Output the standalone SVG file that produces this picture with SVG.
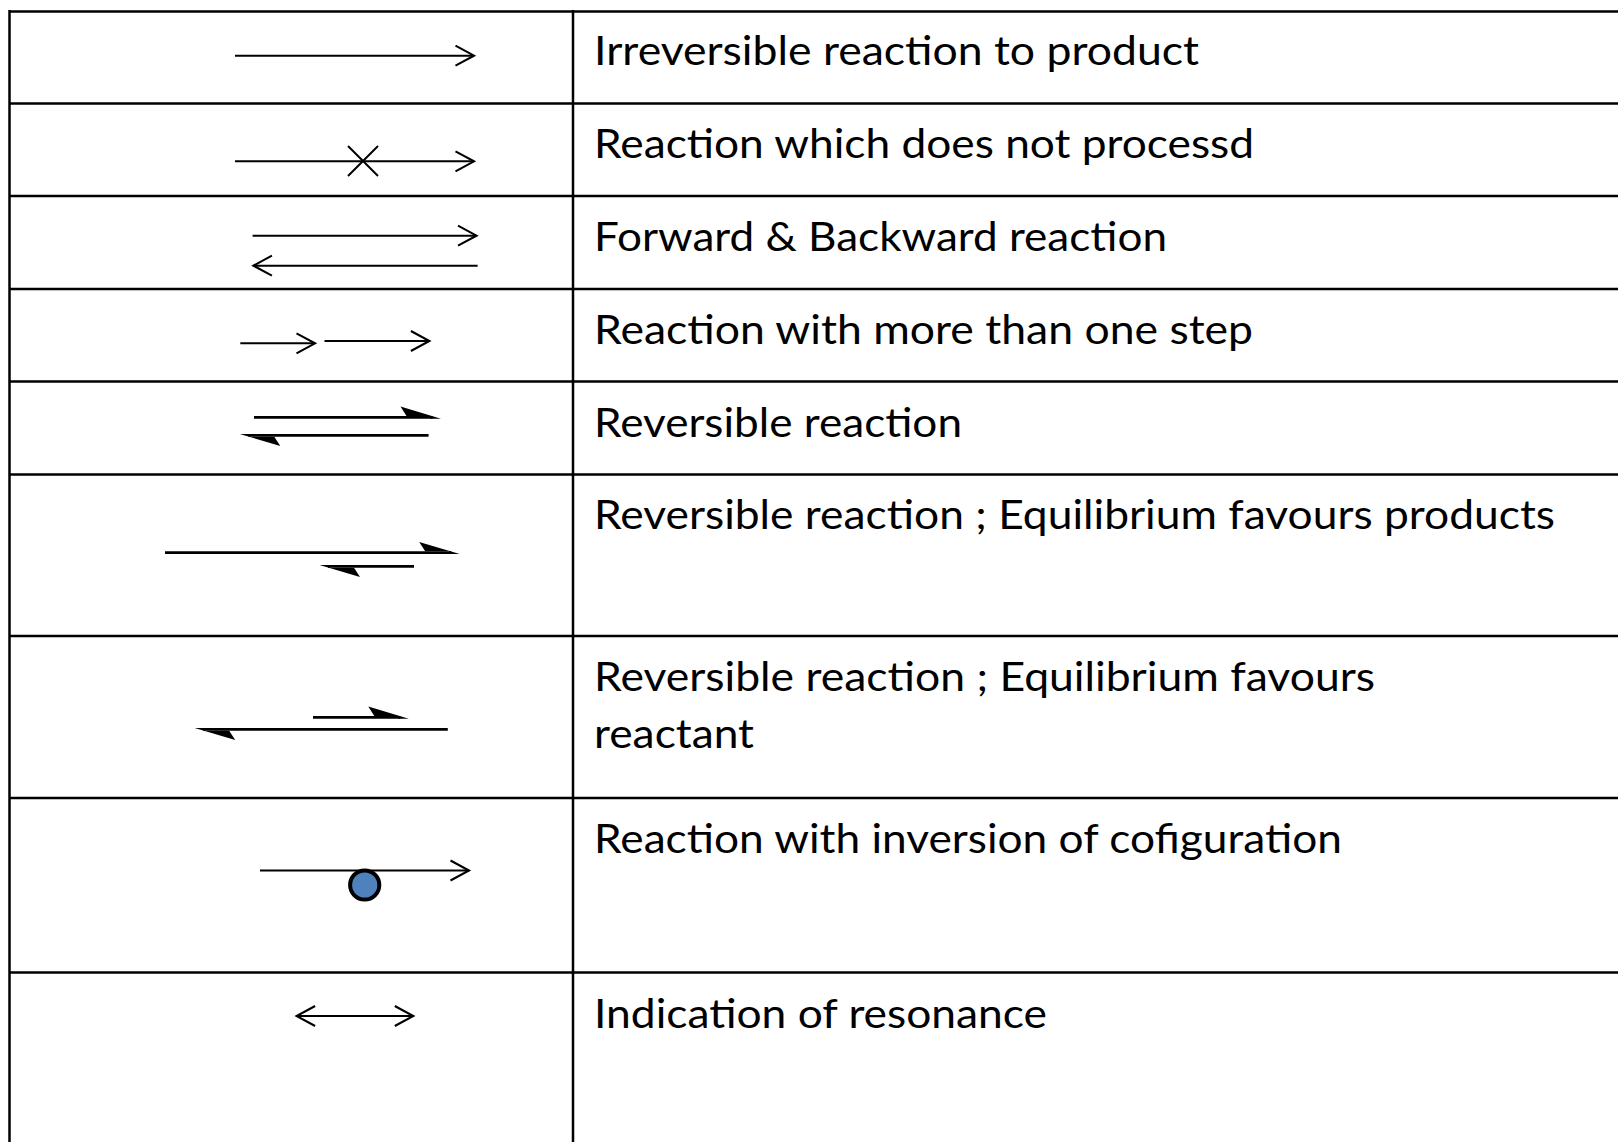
<svg xmlns="http://www.w3.org/2000/svg" width="1618" height="1142" viewBox="0 0 1618 1142">
<style>
.grid{stroke:#000;stroke-width:2.5;fill:none}
.thin{stroke:#000;stroke-width:2;fill:none}
.thick{stroke:#000;stroke-width:2.8;fill:none}
.lbl{font-family:Lato,"Open Sans","Liberation Sans",sans-serif;font-size:40px;fill:#000}
</style>
<defs>
<marker id="chev" markerUnits="userSpaceOnUse" orient="auto-start-reverse" refX="0" refY="0" markerWidth="40" markerHeight="40" overflow="visible">
<path d="M-18.5,-10 L0,0 L-18.5,10" fill="none" stroke="#000" stroke-width="2.1"/>
</marker>
<marker id="harp" markerUnits="userSpaceOnUse" orient="auto" refX="-8" refY="0" markerWidth="60" markerHeight="40" overflow="visible">
<path d="M0.5,1.4 L-40,-10.8 L-34,-1.4 L-10,-1.4 L-10,1.4 Z" fill="#000"/>
</marker>
</defs>
<rect x="0" y="0" width="1618" height="1142" fill="#fff"/>
<g id="table">
<line class="grid" x1="9.5" y1="11.5" x2="1618" y2="11.5"/>
<line class="grid" x1="9.5" y1="103.5" x2="1618" y2="103.5"/>
<line class="grid" x1="9.5" y1="196" x2="1618" y2="196"/>
<line class="grid" x1="9.5" y1="289" x2="1618" y2="289"/>
<line class="grid" x1="9.5" y1="381.5" x2="1618" y2="381.5"/>
<line class="grid" x1="9.5" y1="474.5" x2="1618" y2="474.5"/>
<line class="grid" x1="9.5" y1="636" x2="1618" y2="636"/>
<line class="grid" x1="9.5" y1="798" x2="1618" y2="798"/>
<line class="grid" x1="9.5" y1="972.5" x2="1618" y2="972.5"/>
<line class="grid" x1="9.5" y1="10" x2="9.5" y2="1142"/>
<line class="grid" x1="573" y1="10" x2="573" y2="1142"/>
</g>
<g id="connectors">
<g id="row1-arrow"><line class="thin" x1="235" y1="55.7" x2="474" y2="55.7" marker-end="url(#chev)"/></g>
<g id="row2-arrow"><line class="thin" x1="235" y1="161.3" x2="474" y2="161.3" marker-end="url(#chev)"/>
<path class="thin" d="M348,146 L378,176 M348,176 L378,146"/></g>
<g id="row3-arrows"><line class="thin" x1="252.6" y1="235.7" x2="476.5" y2="235.7" marker-end="url(#chev)"/>
<line class="thin" x1="477.6" y1="265.7" x2="253.4" y2="265.7" marker-end="url(#chev)"/></g>
<g id="row4-arrows"><line class="thin" x1="240.3" y1="343.3" x2="315" y2="343.3" marker-end="url(#chev)"/>
<line class="thin" x1="324.5" y1="341" x2="429.4" y2="341" marker-end="url(#chev)"/></g>
<g id="row5-arrows"><line class="thick" x1="254" y1="417.3" x2="432.5" y2="417.3" marker-end="url(#harp)"/>
<line class="thick" x1="428.6" y1="435.3" x2="248.3" y2="435.3" marker-end="url(#harp)"/></g>
<g id="row6-arrows"><line class="thick" x1="165" y1="552.7" x2="451.2" y2="552.7" marker-end="url(#harp)"/>
<line class="thick" x1="414" y1="566.3" x2="328" y2="566.3" marker-end="url(#harp)"/></g>
<g id="row7-arrows"><line class="thick" x1="313" y1="717.3" x2="400.3" y2="717.3" marker-end="url(#harp)"/>
<line class="thick" x1="447.8" y1="729.3" x2="203.2" y2="729.3" marker-end="url(#harp)"/></g>
<g id="row8-arrow"><line class="thin" x1="260" y1="870.5" x2="469" y2="870.5" marker-end="url(#chev)"/>
<circle cx="364.7" cy="885" r="14.6" fill="#4F81BD" stroke="#000" stroke-width="4"/></g>
<g id="row9-arrow"><line class="thin" x1="296.6" y1="1016" x2="413.3" y2="1016" marker-start="url(#chev)" marker-end="url(#chev)"/></g>
</g>
<g id="labels">
<text class="lbl" x="594" y="65" textLength="605" lengthAdjust="spacingAndGlyphs">Irreversible reaction to product</text>
<text class="lbl" x="594" y="157.5" textLength="660" lengthAdjust="spacingAndGlyphs">Reaction which does not processd</text>
<text class="lbl" x="594" y="250.5" textLength="573" lengthAdjust="spacingAndGlyphs">Forward &amp; Backward reaction</text>
<text class="lbl" x="594" y="343.5" textLength="659" lengthAdjust="spacingAndGlyphs">Reaction with more than one step</text>
<text class="lbl" x="594" y="436.5" textLength="368" lengthAdjust="spacingAndGlyphs">Reversible reaction</text>
<text class="lbl" x="594" y="529.3" textLength="961" lengthAdjust="spacingAndGlyphs">Reversible reaction ; Equilibrium favours products</text>
<text class="lbl" x="594" y="690.5" textLength="781" lengthAdjust="spacingAndGlyphs">Reversible reaction ; Equilibrium favours</text>
<text class="lbl" x="594" y="748.3" textLength="160" lengthAdjust="spacingAndGlyphs">reactant</text>
<text class="lbl" x="594" y="852.7" textLength="748" lengthAdjust="spacingAndGlyphs">Reaction with inversion of cofiguration</text>
<text class="lbl" x="594" y="1027.5" textLength="453" lengthAdjust="spacingAndGlyphs">Indication of resonance</text>
</g>
</svg>
